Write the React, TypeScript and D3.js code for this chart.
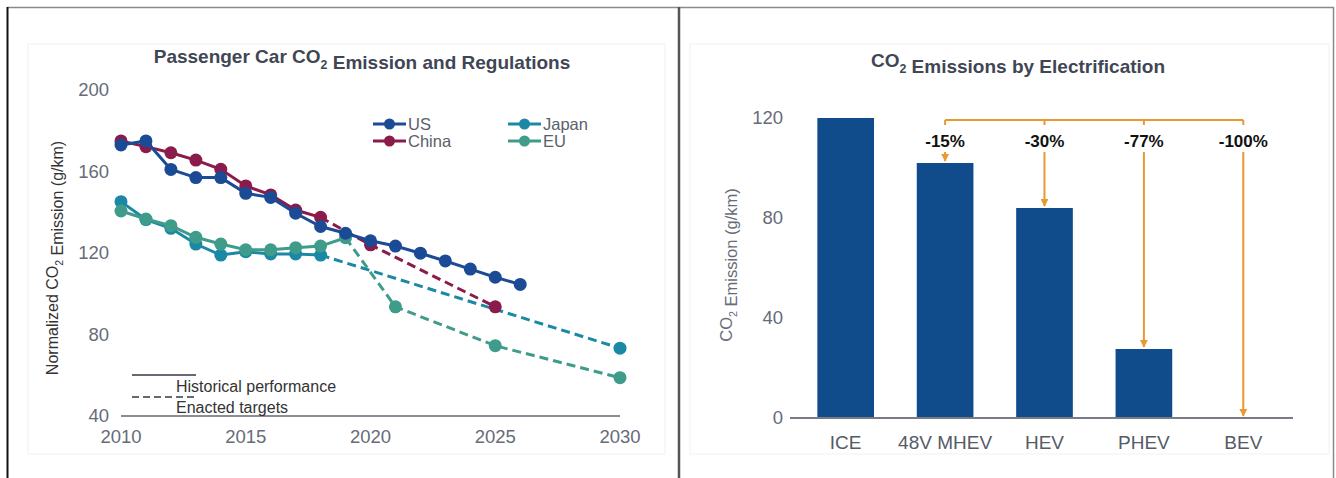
import * as d3 from 'd3';
import React from 'react';

// Left chart: passenger car CO2 (normalized g/km)
const usYears = [2010, 2011, 2012, 2013, 2014, 2015, 2016, 2017, 2018, 2019, 2020, 2021, 2022, 2023, 2024, 2025, 2026];
const usValues = [173, 175, 161, 157, 157, 149.3, 147.3, 139.5, 133, 129.7, 126, 123.4, 119.9, 116.1, 112.1, 108.1, 104.6];

const histYears = [2010, 2011, 2012, 2013, 2014, 2015, 2016, 2017, 2018];
const chinaHist = [175, 172.2, 169.2, 165.6, 161.1, 152.9, 148.5, 141.1, 137.5];
const chinaTargetYears = [2018, 2020, 2025];
const chinaTarget = [137.5, 124, 93.6];

const japanHist = [145.2, 136.4, 132.1, 124.4, 119, 120.6, 119.5, 119.5, 119];
const japanTargetYears = [2018, 2030];
const japanTarget = [119, 73.3];

const euYears = [2010, 2011, 2012, 2013, 2014, 2015, 2016, 2017, 2018, 2019];
const euHist = [140.6, 136.7, 133.4, 127.7, 124.4, 121.6, 121.6, 122.6, 123.4, 127.5];
const euTargetYears = [2019, 2021, 2025, 2030];
const euTarget = [127.5, 93.6, 74.5, 58.8];

const leftYTicks = [40, 80, 120, 160, 200];
const leftXTicks = [2010, 2015, 2020, 2025, 2030];

// Right chart: CO2 by electrification
const categories = ['ICE', '48V MHEV', 'HEV', 'PHEV', 'BEV'];
const emissions = [120, 102, 84, 27.6, 0];
const reductions = ['', '-15%', '-30%', '-77%', '-100%'];
const rightYTicks = [0, 40, 80, 120];

const colors = { US: '#1b4b95', China: '#8a1b4b', Japan: '#1b89a6', EU: '#3f9c8a' };
const barColor = '#104b8b';
const orange = '#e8992f';
const font = "'Liberation Sans', Arial, sans-serif";

const CO2 = ({ size }: { size: number }) => (
  <>
    <tspan>CO</tspan>
    <tspan dy={size * 0.3} fontSize={size * 0.65}>2</tspan>
    <tspan dy={-size * 0.3}></tspan>
  </>
);

const App = () => {
  const x = d3.scaleLinear().domain([2010, 2030]).range([121, 620]);
  const y = d3.scaleLinear().domain([40, 200]).range([416, 90]);
  const line = (xs: number[], vs: number[]) =>
    d3.line<number>().x((_, i) => x(xs[i])).y((v) => y(v))(vs) || '';

  const series = [
    { name: 'Japan', color: colors.Japan, hx: histYears, hv: japanHist, tx: japanTargetYears, tv: japanTarget },
    { name: 'EU', color: colors.EU, hx: euYears, hv: euHist, tx: euTargetYears, tv: euTarget },
    { name: 'China', color: colors.China, hx: histYears, hv: chinaHist, tx: chinaTargetYears, tv: chinaTarget },
    { name: 'US', color: colors.US, hx: usYears, hv: usValues, tx: [], tv: [] },
  ];

  const bx = d3.scaleBand().domain(categories).range([796, 1293]).paddingInner(0.43).paddingOuter(0.215);
  const by = d3.scaleLinear().domain([0, 120]).range([418, 118]);
  const cx = (c: string) => (bx(c) || 0) + bx.bandwidth() / 2;
  const bracketY = by(120) + 2;

  const legend = [
    { name: 'US', color: colors.US, lx: 373, ly: 124 },
    { name: 'China', color: colors.China, lx: 373, ly: 141 },
    { name: 'Japan', color: colors.Japan, lx: 508, ly: 124 },
    { name: 'EU', color: colors.EU, lx: 508, ly: 141 },
  ];

  return (
    <svg width={1336} height={478} style={{ position: 'absolute', left: 0, top: 0, background: '#fff' }} fontFamily={font}>
      <defs>
        <marker id="arrow" viewBox="0 0 10 10" refX="9" refY="5" markerWidth="4" markerHeight="4" orient="auto">
          <path d="M0,0 L10,5 L0,10 z" fill={orange} />
        </marker>
      </defs>

      {/* frames */}
      <rect x={28} y={44} width={637} height={410} fill="none" stroke="#f1f1f1" />
      <rect x={690} y={44} width={639} height={410} fill="none" stroke="#f1f1f1" />
      <line x1={7} x2={1334} y1={7.5} y2={7.5} stroke="#8a8a8a" strokeWidth={1.5} />
      <line x1={7.5} x2={7.5} y1={7} y2={478} stroke="#111" strokeWidth={2} />
      <line x1={679} x2={679} y1={7} y2={478} stroke="#555" strokeWidth={2.5} />
      <line x1={1333.5} x2={1333.5} y1={7} y2={478} stroke="#8a8a8a" strokeWidth={1.5} />

      {/* left chart */}
      <text x={362} y={63} textAnchor="middle" fontSize={19} fontWeight="bold" fill="#3f4654">
        Passenger Car <CO2 size={19} /> Emission and Regulations
      </text>
      {leftYTicks.map((t) => (
        <text key={t} x={109} y={y(t)} dy="0.35em" textAnchor="end" fontSize={18.5} fill="#666c78">{t}</text>
      ))}
      {leftXTicks.map((t) => (
        <text key={t} x={x(t)} y={437} dy="0.35em" textAnchor="middle" fontSize={18.5} fill="#666c78">{t}</text>
      ))}
      <line x1={x(2010)} x2={x(2030)} y1={y(40)} y2={y(40)} stroke="#8c8c96" strokeWidth={2} />
      <text transform={`translate(58,258) rotate(-90)`} textAnchor="middle" fontSize={16} fill="#333">
        Normalized <CO2 size={16} /> Emission (g/km)
      </text>

      {series.map((s) => (
        <g key={s.name}>
          {s.tx.length > 0 && (
            <path d={line(s.tx, s.tv)} fill="none" stroke={s.color} strokeWidth={3} strokeDasharray="9,5" />
          )}
          <path d={line(s.hx, s.hv)} fill="none" stroke={s.color} strokeWidth={3} />
          {s.hx.map((yr, i) => (
            <circle key={'h' + yr} cx={x(yr)} cy={y(s.hv[i])} r={6.5} fill={s.color} />
          ))}
          {s.tx.slice(1).map((yr, i) => (
            <circle key={'t' + yr} cx={x(yr)} cy={y(s.tv[i + 1])} r={6.5} fill={s.color} />
          ))}
        </g>
      ))}

      {legend.map((l) => (
        <g key={l.name}>
          <line x1={l.lx} x2={l.lx + 33} y1={l.ly} y2={l.ly} stroke={l.color} strokeWidth={3} />
          <circle cx={l.lx + 16.5} cy={l.ly} r={5.5} fill={l.color} />
          <text x={l.lx + 35} y={l.ly} dy="0.35em" fontSize={16.5} fill="#5a606a">{l.name}</text>
        </g>
      ))}

      <line x1={132} x2={196} y1={375} y2={375} stroke="#666a72" strokeWidth={2} />
      <text x={176} y={386} dy="0.35em" fontSize={16} fill="#333">Historical performance</text>
      <line x1={132} x2={196} y1={397} y2={397} stroke="#666a72" strokeWidth={2} strokeDasharray="7,4" />
      <text x={176} y={407} dy="0.35em" fontSize={16} fill="#333">Enacted targets</text>

      {/* right chart */}
      <text x={1018} y={67} textAnchor="middle" fontSize={19} fontWeight="bold" fill="#3f4654">
        <CO2 size={19} /> Emissions by Electrification
      </text>
      {rightYTicks.map((t) => (
        <text key={t} x={783} y={by(t)} dy="0.35em" textAnchor="end" fontSize={18.5} fill="#666c78">{t}</text>
      ))}
      <text transform={`translate(732,265) rotate(-90)`} textAnchor="middle" fontSize={16.5} fill="#666c78">
        <CO2 size={16.5} /> Emission (g/km)
      </text>
      {categories.map((c, i) => (
        <rect key={c} x={bx(c)} y={by(emissions[i])} width={bx.bandwidth()} height={by(0) - by(emissions[i])} fill={barColor} />
      ))}
      <line x1={790} x2={1293} y1={by(0)} y2={by(0)} stroke="#777c86" strokeWidth={2} />
      {categories.map((c) => (
        <text key={c} x={cx(c)} y={442} dy="0.35em" textAnchor="middle" fontSize={19} fill="#555b66">{c}</text>
      ))}

      <line x1={cx(categories[1])} x2={cx(categories[4])} y1={bracketY} y2={bracketY} stroke={orange} strokeWidth={2} />
      {categories.slice(1).map((c, j) => {
        const i = j + 1;
        return (
          <g key={c}>
            <line x1={cx(c)} x2={cx(c)} y1={bracketY} y2={bracketY + 5} stroke={orange} strokeWidth={2} />
            <text x={cx(c)} y={141} dy="0.35em" textAnchor="middle" fontSize={17} fontWeight="bold" fill="#111">{reductions[i]}</text>
            <line x1={cx(c)} x2={cx(c)} y1={152} y2={by(emissions[i]) - 2} stroke={orange} strokeWidth={2} markerEnd="url(#arrow)" />
          </g>
        );
      })}
    </svg>
  );
};

export default App;
